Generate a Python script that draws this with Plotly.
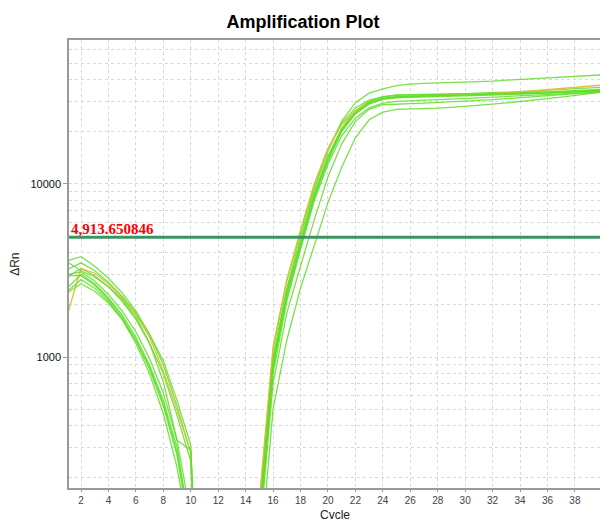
import math
import plotly.graph_objects as go

cycles = list(range(1, 41))
threshold = 4913.650846
x_ticks = list(range(2, 40, 2))
y_major = [1000, 10000]
y_minor = [200, 300, 400, 500, 600, 700, 800, 900,
           2000, 3000, 4000, 5000, 6000, 7000, 8000, 9000,
           20000, 30000, 40000, 50000, 60000]

N = None
# ΔRn per cycle (1..40); None = not positive (not drawable on log axis)
well_A = [3600, 3800, 3350, 2850, 2350, 1850, 1350, 900, 520, 280, 4, N, N, N,
          130, 1000, 2500, 5000, 9300, 15500, 23000, 29500, 33500, 35500, 37000,
          37800, 38100, 38300, 38500, 38600, 38900, 39300, 39800, 40200, 40700, 41100, 41500, 41800, 42200, 42700]
well_B = [1750, 3250, 3050, 2650, 2200, 1750, 1300, 830, 490, 280, 5, N, N, N,
          150, 1150, 2800, 5400, 10000, 16000, 22000, 26500, 29500, 31000, 31800,
          32000, 32200, 32400, 32600, 32800, 33000, 33300, 33600, 34000, 34500, 35000, 35600, 36200, 36800, 37300]
well_C = [2900, 3250, 2950, 2550, 2100, 1650, 1200, 800, 460, 250, 3, N, N, N,
          140, 1100, 2750, 5300, 9800, 16000, 22500, 27500, 30500, 32000, 32700,
          32900, 33000, 33100, 33200, 33300, 33400, 33600, 33900, 34200, 34500, 34900, 35300, 35600, 35900, 36200]
well_D = [3000, 3100, 2750, 2300, 1850, 1400, 980, 620, 330, 120, N, N, N, N,
          120, 950, 2400, 4700, 8800, 14500, 21000, 26500, 30000, 31800, 32500,
          32700, 32800, 32900, 33000, 33100, 33200, 33300, 33500, 33700, 33900, 34100, 34300, 34600, 34900, 35200]
well_E = [2500, 3000, 2650, 2200, 1750, 1300, 900, 560, 300, 100, N, N, N, N,
          110, 900, 2300, 4500, 8500, 14000, 20500, 26000, 29500, 31300, 32000,
          32200, 32300, 32400, 32500, 32600, 32700, 32800, 33000, 33200, 33400, 33600, 33800, 34100, 34400, 34800]
well_F = [2350, 2650, 2400, 2050, 1650, 1250, 870, 540, 280, 95, N, N, N, N,
          100, 850, 2200, 4300, 8200, 13500, 20000, 25500, 29000, 30800, 31500,
          31700, 31800, 31900, 32000, 32200, 32400, 32600, 32800, 33000, 33300, 33500, 33800, 34000, 34200, 34500]
well_G = [3550, 3150, 2900, 2550, 2150, 1700, 1200, 720, 330, 290, 3, N, N, N,
          100, 800, 2100, 4200, 8000, 13000, 19000, 24000, 27500, 29300, 30000,
          30300, 30500, 30700, 30900, 31200, 31500, 31800, 32100, 32400, 32700, 33000, 33300, 33500, 33700, 33900]
well_H = [2950, 2950, 2600, 2150, 1700, 1250, 850, 520, 270, 90, N, N, N, N,
          90, 700, 1800, 3400, 6200, 11000, 17000, 23000, 27000, 28700, 29000,
          29100, 29300, 29500, 29800, 30100, 30400, 30700, 31100, 31500, 31900, 32400, 32900, 33400, 33900, 34200]
well_I = [2400, 2800, 2500, 2100, 1650, 1200, 800, 470, 230, 80, N, N, N, N,
          60, 500, 1250, 2500, 4400, 7800, 12500, 18500, 23500, 26000, 27000,
          27100, 27200, 27400, 27700, 28000, 28400, 28900, 29400, 29900, 30500, 31100, 31800, 32500, 33200, 34000]
well_J = [3200, 3500, 3150, 2700, 2250, 1800, 1350, 950, 560, 310, 4, N, N, N,
          110, 900, 2350, 4600, 8700, 14200, 20500, 25500, 29000, 31000, 31800,
          32000, 32200, 32400, 32600, 32800, 33000, 33200, 33400, 33600, 33800, 34000, 34200, 34400, 34600, 34800]

green = "rgba(95,222,40,0.85)"
orange = "rgba(232,184,48,0.95)"

fig = go.Figure()
wells = [("A", well_A, green), ("C", well_C, green), ("D", well_D, green),
         ("B", well_B, orange), ("E", well_E, green), ("F", well_F, green),
         ("G", well_G, green), ("H", well_H, green), ("I", well_I, green),
         ("J", well_J, green)]
for name, vals, col in wells:
    fig.add_trace(go.Scatter(x=cycles, y=vals, mode="lines", name=name,
                             line=dict(color=col, width=1.3), connectgaps=False,
                             showlegend=False, hoverinfo="skip"))

fig.add_trace(go.Scatter(x=[cycles[0], cycles[-1]], y=[threshold, threshold], mode="lines",
                         line=dict(color="#3a9463", width=3), showlegend=False, hoverinfo="skip"))

fig.add_annotation(x=0, xref="paper", xanchor="left", y=math.log10(threshold), yref="y",
                   yanchor="bottom", yshift=-2, text="<b>4,913.650846</b>", showarrow=False,
                   font=dict(family="Liberation Serif", size=15, color="#ff0000"))

# axis titles placed as annotations (paper coordinates)
fig.add_annotation(x=-0.102, xref="paper", xanchor="center", y=0.5, yref="paper", yanchor="middle",
                   text="ΔRn", textangle=-90, showarrow=False,
                   font=dict(family="Liberation Sans", size=12, color="#222"))
fig.add_annotation(x=0.5, xref="paper", xanchor="center", y=-0.04, yref="paper", yanchor="top",
                   text="Cycle", showarrow=False,
                   font=dict(family="Liberation Sans", size=12, color="#222"))

grid = "#d8d8d8"
fig.update_layout(
    width=600, height=519,
    margin=dict(l=69, r=0, t=40, b=31),
    paper_bgcolor="white", plot_bgcolor="white",
    title=dict(text="<b>Amplification Plot</b>", x=0.505, xanchor="center", y=0.958, yanchor="middle",
               font=dict(family="Liberation Sans", size=18, color="black")),
    font=dict(family="Liberation Sans", color="#222"),
)
fig.update_xaxes(range=[1.125, 39.83], tickvals=x_ticks, ticks="outside", ticklen=2,
                 tickcolor="#999", tickfont=dict(size=10, color="#444"),
                 showgrid=True, gridcolor=grid, griddash="3px,3px", gridwidth=1,
                 showline=True, linecolor="#9a9a9a", linewidth=1.5, mirror=True,
                 zeroline=False, automargin=False)
fig.update_yaxes(type="log", range=[2.243, 4.832], tickvals=y_major, ticktext=["1000", "10000"],
                 ticks="outside", ticklen=4, tickcolor="#999", tickfont=dict(size=11, color="#111"),
                 showgrid=True, gridcolor=grid, griddash="3px,3px", gridwidth=1,
                 minor=dict(tickvals=y_minor, showgrid=True, gridcolor=grid, griddash="3px,3px", ticks=""),
                 showline=True, linecolor="#9a9a9a", linewidth=1.5,
                 zeroline=False, automargin=False)

fig.write_html("out.html", config={"displayModeBar": False},
               post_script="document.body.style.margin='0';")
